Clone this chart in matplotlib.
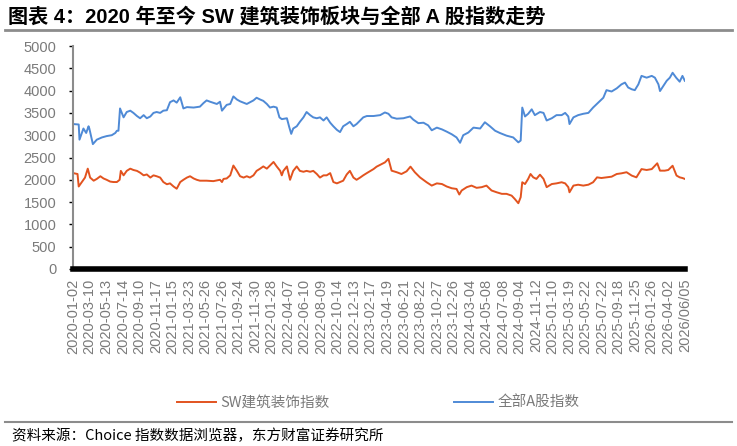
import numpy as np
import matplotlib
matplotlib.use("Agg")
import matplotlib.pyplot as plt
from matplotlib.lines import Line2D

plt.rcParams['font.family'] = ['Liberation Sans', 'Noto Sans CJK SC', 'DejaVu Sans']

# Dados (índice = dia útil desde 2020-01-02)
dias_a = [0, 14, 16, 26, 33, 39, 41, 50, 60, 73, 85, 98, 107, 111, 115, 119, 128, 136, 145, 153,
          162, 170, 179, 187, 196, 204, 212, 221, 229, 238, 246, 255, 263, 272, 280, 289, 306, 322, 331, 339,
          348, 365, 373, 378, 390, 399, 407, 416, 424, 441, 458, 466, 475, 483, 492, 500, 509, 517, 524, 530,
          543, 549, 554, 559, 568, 576, 585, 593, 602, 610, 619, 627, 636, 644, 653, 661, 670, 678, 686, 695,
          703, 712, 720, 729, 737, 746, 763, 780, 792, 801, 809, 822, 839, 856, 864, 877, 890, 902, 911, 924,
          937, 949, 962, 974, 983, 991, 1004, 1017, 1034, 1046, 1059, 1072, 1084, 1101, 1118, 1131, 1137, 1141, 1148, 1156,
          1165, 1173, 1186, 1195, 1203, 1216, 1228, 1241, 1250, 1258, 1261, 1271, 1283, 1296, 1309, 1321, 1334, 1347, 1355, 1368,
          1381, 1393, 1402, 1410, 1419, 1427, 1436, 1444, 1457, 1470, 1478, 1487, 1491, 1499, 1508, 1516, 1523, 1532, 1541, 1548,
          1554]
indice_a = [3250, 3240, 2900, 3150, 3050, 3200, 3150, 2800, 2900, 2950, 2980, 3000, 3050, 3100, 3100, 3600, 3400, 3520, 3550, 3500,
            3430, 3380, 3450, 3380, 3420, 3500, 3520, 3500, 3550, 3560, 3740, 3780, 3730, 3850, 3600, 3630, 3620, 3640, 3720, 3780,
            3750, 3700, 3750, 3550, 3680, 3700, 3870, 3800, 3760, 3700, 3780, 3840, 3800, 3770, 3700, 3620, 3640, 3620, 3400, 3360,
            3380, 3180, 3030, 3150, 3200, 3300, 3400, 3520, 3450, 3400, 3380, 3400, 3330, 3400, 3280, 3200, 3120, 3070, 3200, 3250,
            3300, 3200, 3250, 3330, 3400, 3430, 3430, 3450, 3510, 3480, 3400, 3370, 3380, 3420, 3350, 3270, 3280, 3220, 3110, 3170,
            3130, 3080, 3020, 2950, 2830, 3000, 3060, 3170, 3150, 3290, 3200, 3100, 3050, 2990, 2950, 2840, 2880, 3620, 3420, 3480,
            3580, 3450, 3520, 3500, 3330, 3380, 3450, 3450, 3500, 3420, 3250, 3400, 3450, 3480, 3500, 3620, 3730, 3840, 4010, 3980,
            4050, 4140, 4180, 4070, 4030, 4010, 4140, 4330, 4290, 4330, 4290, 4140, 3990, 4100, 4220, 4290, 4400, 4290, 4200, 4330,
            4220]

dias_sw = [0, 11, 14, 22, 30, 37, 43, 52, 60, 69, 77, 85, 94, 102, 111, 118, 121, 128, 136, 145,
           153, 162, 170, 179, 187, 196, 204, 212, 221, 229, 238, 246, 255, 263, 272, 280, 289, 297, 306, 314,
           322, 339, 356, 373, 378, 382, 390, 399, 407, 416, 424, 433, 441, 449, 458, 466, 475, 483, 492, 500,
           509, 517, 526, 530, 534, 543, 551, 559, 568, 576, 585, 593, 602, 610, 619, 627, 636, 644, 653, 661,
           670, 678, 686, 695, 703, 712, 720, 729, 737, 746, 763, 771, 784, 792, 801, 809, 822, 834, 847, 857,
           868, 881, 898, 911, 924, 937, 949, 962, 974, 981, 987, 1000, 1012, 1025, 1038, 1050, 1063, 1076, 1089, 1101,
           1114, 1122, 1131, 1137, 1141, 1148, 1156, 1162, 1169, 1177, 1186, 1195, 1203, 1216, 1228, 1241, 1250, 1258, 1261, 1271,
           1283, 1296, 1309, 1321, 1331, 1342, 1355, 1368, 1381, 1393, 1406, 1419, 1431, 1444, 1457, 1470, 1484, 1491, 1503, 1512,
           1523, 1533, 1541, 1548, 1554]
indice_sw = [2150, 2130, 1850, 1950, 2050, 2250, 2050, 1980, 2020, 2080, 2030, 2000, 1960, 1950, 1950, 2000, 2200, 2100, 2200, 2250,
             2220, 2200, 2160, 2100, 2120, 2050, 2100, 2080, 2050, 1950, 1900, 1920, 1850, 1800, 1950, 2000, 2050, 2080, 2030, 2000,
             1980, 1980, 1970, 2000, 1950, 2020, 2030, 2100, 2320, 2200, 2080, 2050, 2080, 2050, 2100, 2200, 2250, 2300, 2250, 2320,
             2400, 2300, 2200, 2100, 2200, 2300, 2000, 2200, 2300, 2200, 2180, 2200, 2180, 2200, 2130, 2050, 2100, 2100, 2150, 1950,
             1920, 1950, 1980, 2120, 2200, 2050, 2000, 2050, 2100, 2150, 2240, 2295, 2355, 2390, 2470, 2205, 2170, 2130, 2190, 2295,
             2170, 2055, 1945, 1870, 1920, 1905, 1850, 1810, 1795, 1670, 1760, 1835, 1870, 1820, 1835, 1870, 1760, 1720, 1685, 1685,
             1645, 1570, 1475, 1610, 1945, 1905, 2020, 2130, 2055, 2020, 2115, 2020, 1835, 1905, 1920, 1945, 1920, 1835, 1720, 1870,
             1890, 1870, 1890, 1945, 2055, 2040, 2055, 2070, 2130, 2145, 2170, 2095, 2055, 2240, 2220, 2240, 2370, 2205, 2205, 2220,
             2315, 2095, 2055, 2040, 2020]

rotulos_x = ["2020-01-02", "2020-03-10", "2020-05-13", "2020-07-14", "2020-09-10", "2020-11-17",
             "2021-01-15", "2021-03-23", "2021-05-26", "2021-07-26", "2021-09-24", "2021-11-30",
             "2022-01-28", "2022-04-07", "2022-06-10", "2022-08-09", "2022-10-14", "2022-12-13",
             "2023-02-17", "2023-04-19", "2023-06-21", "2023-08-22", "2023-10-27", "2023-12-26",
             "2024-03-04", "2024-05-08", "2024-07-08", "2024-09-04", "2024-11-12",
             "2025-01-10", "2025-03-19", "2025-05-22", "2025-07-22", "2025-09-18", "2025-11-25",
             "2026-01-26", "2026-04-02", "2026/06/05"]
passo_rotulo = 42  # dias úteis entre rótulos

cor_sw = "#E2531F"
cor_a = "#4F8AD6"
cinza = "#7a7a7a"

fig = plt.figure(figsize=(7.37, 4.46), dpi=100)
ax = fig.add_axes([73/737, 1 - 269/446, 612/737, 223/446])

ax.plot(dias_sw, indice_sw, color=cor_sw, linewidth=1.4, label="SW建筑装饰指数")
ax.plot(dias_a, indice_a, color=cor_a, linewidth=1.4, label="全部A股指数")

ax.set_ylim(0, 5000)
ax.set_yticks(np.arange(0, 5001, 500))
ax.set_xlim(-0.5, dias_a[-1] + 0.5)
ax.set_xticks([i * passo_rotulo for i in range(len(rotulos_x))])
ax.set_xticklabels(rotulos_x, rotation=90)

ax.tick_params(axis='y', labelcolor=cinza, labelsize=10.5, length=3, width=1, color='black',
               direction='out', pad=9)
ax.tick_params(axis='x', labelcolor=cinza, labelsize=10.5, length=0, pad=7)

for lado in ['top', 'right']:
    ax.spines[lado].set_visible(False)
ax.spines['left'].set_color('#8c8c8c')
ax.spines['left'].set_linewidth(1.5)
ax.spines['bottom'].set_color('black')
ax.spines['bottom'].set_linewidth(4)

# Título e linhas
fig.text(8/737, 1 - 17/446, "图表 4：2020 年至今 SW 建筑装饰板块与全部 A 股指数走势",
         fontsize=14.5, fontweight='bold', va='center', ha='left',
         family=['Liberation Sans', 'Noto Sans CJK SC'])
fig.add_artist(Line2D([5/737, 732/737], [1 - 30/446, 1 - 30/446], color='#8c8c8c', linewidth=2))
fig.add_artist(Line2D([5/737, 732/737], [1 - 422/446, 1 - 422/446], color='#8c8c8c', linewidth=1.5))
fig.text(12/737, 1 - 436/446, "资料来源：Choice 指数数据浏览器，东方财富证券研究所",
         fontsize=10.5, va='center', ha='left', family=['Noto Sans CJK SC', 'DejaVu Sans'])

leg = fig.legend(loc='center', bbox_to_anchor=(378/737, 1 - 403/446), ncol=2, frameon=False,
                 handlelength=2.7, columnspacing=8.5, handletextpad=0.3,
                 prop={'family': ['Noto Sans CJK SC'], 'size': 10.5})
for t in leg.get_texts():
    t.set_color(cinza)

fig.savefig("out.png", dpi=100)
